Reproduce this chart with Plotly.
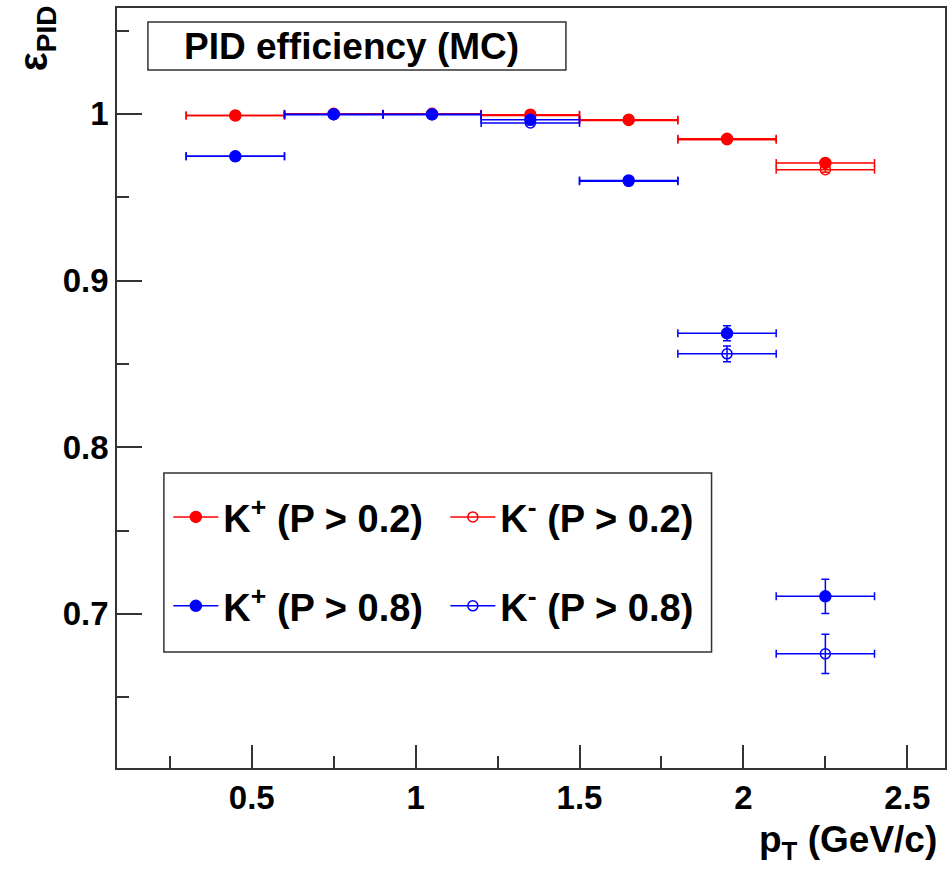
import plotly.graph_objects as go

# ---- data ----
pt = [0.45, 0.75, 1.05, 1.35, 1.65, 1.95, 2.25]
pt_halfwidth = [0.15, 0.15, 0.15, 0.15, 0.15, 0.15, 0.15]

eff_kplus_p02 = [0.9990, 1.0000, 1.0000, 0.9995, 0.9965, 0.9850, 0.9705]
err_kplus_p02 = [0.0005, 0.0003, 0.0003, 0.0005, 0.0008, 0.0012, 0.0015]
eff_kminus_p02 = [0.9990, 0.9998, 0.9998, 0.9990, 0.9960, 0.9845, 0.9665]
err_kminus_p02 = [0.0005, 0.0003, 0.0003, 0.0005, 0.0008, 0.0012, 0.0016]
eff_kplus_p08 = [0.9745, 0.9998, 0.9997, 0.9965, 0.9600, 0.8683, 0.7105]
err_kplus_p08 = [0.0010, 0.0004, 0.0004, 0.0010, 0.0015, 0.0045, 0.0103]
eff_kminus_p08 = [0.9745, 0.9995, 0.9995, 0.9945, 0.9595, 0.8560, 0.6760]
err_kminus_p08 = [0.0010, 0.0004, 0.0004, 0.0012, 0.0020, 0.0047, 0.0118]

series_names = ["K<sup>+</sup> (P > 0.2)", "K<sup>-</sup> (P > 0.2)",
                "K<sup>+</sup> (P > 0.8)", "K<sup>-</sup> (P > 0.8)"]

x_tickvals = [0.5, 1, 1.5, 2, 2.5]
x_ticktext = ["0.5", "1", "1.5", "2", "2.5"]
y_tickvals = [0.7, 0.8, 0.9, 1.0]
y_ticktext = ["0.7", "0.8", "0.9", "1"]

FONT = "Liberation Sans, Arial, Helvetica, sans-serif"
RED = "#ff0000"
BLUE = "#0000ff"

fig = go.Figure()

specs = [
    (eff_kplus_p02, err_kplus_p02, RED, "circle", series_names[0], "legend"),
    (eff_kminus_p02, err_kminus_p02, RED, "circle-open", series_names[1], "legend"),
    (eff_kplus_p08, err_kplus_p08, BLUE, "circle", series_names[2], "legend2"),
    (eff_kminus_p08, err_kminus_p08, BLUE, "circle-open", series_names[3], "legend2"),
]

for y, ey, col, sym, name, leg in specs:
    fig.add_trace(go.Scatter(
        x=pt, y=y, mode="markers", showlegend=False,
        marker=dict(symbol=sym, size=11 if sym == "circle" else 10, color=col,
                    line=dict(color=col, width=1.5)),
        error_x=dict(type="data", array=pt_halfwidth, color=col, thickness=1.5, width=4),
        error_y=dict(type="data", array=ey, color=col, thickness=1.5, width=4),
    ))

# legend-only entries (line + marker, ROOT style)
for y, ey, col, sym, name, leg in specs:
    fig.add_trace(go.Scatter(
        x=[None], y=[None], mode="lines+markers", name=name, legend=leg,
        line=dict(color=col, width=1.5),
        marker=dict(symbol=sym, size=11 if sym == "circle" else 10, color=col,
                    line=dict(color=col, width=1.5)),
    ))

axis_common = dict(
    showline=True, linecolor="#333333", linewidth=1.5, mirror=True,
    ticks="inside", tickcolor="#333333", tickwidth=1.5,
    showgrid=False, zeroline=False,
    tickfont=dict(family=FONT, size=33, color="black", weight="bold"),
)

fig.update_xaxes(
    range=[0.089, 2.615], tickmode="array", tickvals=x_tickvals, ticktext=x_ticktext,
    ticklen=23,
    minor=dict(ticks="inside", ticklen=12, dtick=0.25, tick0=0, tickcolor="#333333", tickwidth=1.5),
    **axis_common,
)
fig.update_yaxes(
    range=[0.6075, 1.0635], tickmode="array", tickvals=y_tickvals, ticktext=y_ticktext,
    ticklen=25,
    minor=dict(ticks="inside", ticklen=12, dtick=0.05, tick0=0, tickcolor="#333333", tickwidth=1.5),
    **axis_common,
)

legend_common = dict(
    orientation="h", xanchor="left", yanchor="middle", bgcolor="rgba(0,0,0,0)",
    borderwidth=0, entrywidth=217, entrywidthmode="pixels",
    font=dict(family=FONT, size=38, color="black", weight="bold"),
    itemwidth=45,
)

fig.update_layout(
    width=949, height=870,
    margin=dict(l=117, r=2, t=8, b=102),
    plot_bgcolor="white", paper_bgcolor="white",
    legend=dict(x=0.062, y=0.330, **legend_common),
    legend2=dict(x=0.062, y=0.213, **legend_common),
    shapes=[
        # legend frame
        dict(type="rect", xref="paper", yref="paper",
             x0=(164 - 117) / 830, x1=(713 - 117) / 830,
             y0=(768 - 652) / 760, y1=(768 - 473) / 760,
             line=dict(color="#333333", width=1.5), fillcolor="rgba(0,0,0,0)"),
        # title frame
        dict(type="rect", xref="paper", yref="paper",
             x0=(148 - 117) / 830, x1=(567 - 117) / 830,
             y0=(768 - 70) / 760, y1=(768 - 22) / 760,
             line=dict(color="#333333", width=1.5), fillcolor="white"),
    ],
    annotations=[
        dict(text="<b>PID efficiency (MC)</b>", xref="paper", yref="paper",
             x=(352 - 117) / 830, y=(768 - 46) / 760, xanchor="center", yanchor="middle",
             showarrow=False, font=dict(family=FONT, size=37, color="black")),
        dict(text="<b>p<sub>T</sub> (GeV/c)</b>", xref="paper", yref="paper",
             x=(941 - 117) / 830, y=(768 - 817) / 760, xanchor="right", yanchor="top",
             showarrow=False, font=dict(family=FONT, size=37, color="black")),
        dict(text="<b>ε<sub>PID</sub></b>", xref="paper", yref="paper",
             x=(36 - 117) / 830, y=(768 - 3) / 760, xanchor="center", yanchor="top",
             textangle=-90, showarrow=False,
             font=dict(family=FONT, size=40, color="black")),
    ],
)

fig.write_html("out.html")
